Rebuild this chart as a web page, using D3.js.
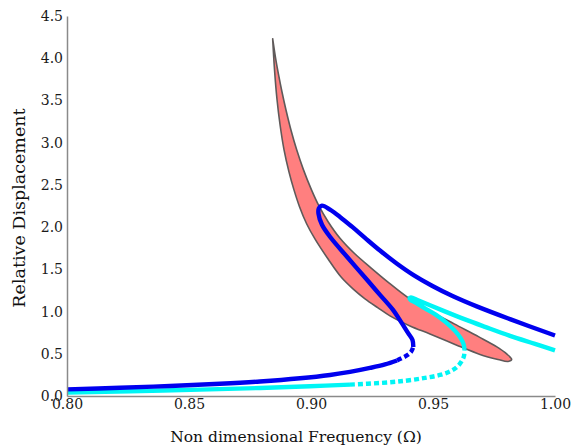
<!DOCTYPE html>
<html>
<head>
<meta charset="utf-8">
<script src="https://cdn.jsdelivr.net/npm/d3@7"></script>
<style>
  html, body { margin: 0; padding: 0; background: #fff; }
  svg { display: block; }
  .tick text { font-family: "DejaVu Serif", serif; font-size: 14px; fill: #1a1a1a; }
  .title { font-family: "DejaVu Serif", serif; fill: #111; }
</style>
</head>
<body>
<svg id="chart" width="572" height="445"></svg>
<script>
// Frequency response: [Omega, relative displacement]

// Shaded region: upper/right edge, from the top tip down to the lower-right tip
const bandUpper = [
  [0.88430, 4.229], [0.88557, 3.986], [0.88676, 3.796], [0.88807, 3.606], [0.88980, 3.381],
  [0.89184, 3.144], [0.89410, 2.918], [0.89689, 2.681], [0.90016, 2.444], [0.90320, 2.254],
  [0.90701, 2.064], [0.91172, 1.874], [0.91795, 1.684], [0.92455, 1.518], [0.93193, 1.340],
  [0.93963, 1.168], [0.94844, 1.014], [0.95869, 0.854], [0.96881, 0.700], [0.97619, 0.581],
  [0.98020, 0.498], [0.98225, 0.433]
];
// Shaded region: lower/left edge, from the lower-right tip back up to the top tip
const bandLower = [
  [0.98074, 0.409], [0.97664, 0.433], [0.96926, 0.492], [0.95902, 0.611], [0.94877, 0.735],
  [0.94057, 0.830], [0.93238, 0.949], [0.92746, 1.044], [0.92213, 1.151], [0.91721, 1.269],
  [0.91225, 1.412], [0.90693, 1.625], [0.90180, 1.851], [0.89820, 2.040], [0.89529, 2.242],
  [0.89299, 2.444], [0.89094, 2.657], [0.88893, 2.918], [0.88730, 3.215], [0.88607, 3.511],
  [0.88504, 3.867]
];

// Blue response curve: lower branch (solid, then sparse points near the jump)
const blueLowerSolid = [
  [0.80000, 0.079], [0.82172, 0.097], [0.84221, 0.119], [0.86270, 0.145], [0.87910, 0.172],
  [0.89549, 0.210], [0.90779, 0.249], [0.91598, 0.285], [0.92418, 0.332], [0.93033, 0.374],
  [0.93525, 0.421]
];
const blueLowerDotted = [
  [0.93525, 0.421], [0.93893, 0.474], [0.94098, 0.522], [0.94193, 0.581]
];
// Blue: middle branch up to the peak, then upper branch
const blueUpper = [
  [0.94193, 0.581], [0.94160, 0.664], [0.93975, 0.747], [0.93689, 0.878], [0.93361, 1.020],
  [0.92828, 1.198], [0.92295, 1.376], [0.91475, 1.649], [0.90779, 1.886], [0.90451, 2.028],
  [0.90307, 2.159], [0.90320, 2.220], [0.90451, 2.254], [0.90779, 2.206], [0.91189, 2.121],
  [0.91680, 2.005], [0.92213, 1.872], [0.92828, 1.722], [0.93525, 1.567], [0.94221, 1.429],
  [0.94959, 1.306], [0.95779, 1.187], [0.96844, 1.055], [0.98156, 0.910], [1.00000, 0.717]
];

// Cyan response curve
const cyanLowerSolid = [
  [0.80000, 0.042], [0.82582, 0.056], [0.85451, 0.076], [0.87910, 0.095], [0.89959, 0.115],
  [0.91598, 0.135]
];
const cyanLowerDotted = [
  [0.91598, 0.135], [0.92828, 0.154], [0.93852, 0.180], [0.94672, 0.214], [0.95287, 0.249],
  [0.95697, 0.291], [0.95984, 0.344], [0.96168, 0.409], [0.96270, 0.474], [0.96291, 0.546]
];
const cyanUpper = [
  [0.96291, 0.546], [0.96250, 0.617], [0.96127, 0.688], [0.95902, 0.771], [0.95533, 0.872],
  [0.95123, 0.961], [0.94672, 1.038], [0.94303, 1.103], [0.94078, 1.139], [0.94037, 1.157],
  [0.94098, 1.168], [0.94385, 1.133], [0.94877, 1.074], [0.95533, 0.996], [0.96311, 0.907],
  [0.97131, 0.819], [0.98156, 0.712], [0.99180, 0.617], [1.00000, 0.540]
];

// Axis ticks
const xTicks = [0.80, 0.85, 0.90, 0.95, 1.00];
const yTicks = [0.0, 0.5, 1.0, 1.5, 2.0, 2.5, 3.0, 3.5, 4.0, 4.5];

const svg = d3.select("#chart");
const x = d3.scaleLinear().domain([0.8, 1.0]).range([67, 555]);
const y = d3.scaleLinear().domain([0, 4.5]).range([396, 16]);

const line = d3.line()
  .x(d => x(d[0]))
  .y(d => y(d[1]))
  .curve(d3.curveCatmullRom.alpha(0.5));

// Shaded band
svg.append("path")
  .attr("d", line(bandUpper.concat(bandLower, [bandUpper[0]])) + "Z")
  .attr("fill", "#ff7f7f")
  .attr("stroke", "#5f5a5a")
  .attr("stroke-width", 1.6)
  .attr("stroke-linejoin", "round");

function drawCurve(data, color, dashed) {
  svg.append("path")
    .attr("d", line(data))
    .attr("fill", "none")
    .attr("stroke", color)
    .attr("stroke-width", 4.4)
    .attr("stroke-linecap", "butt")
    .attr("stroke-linejoin", "round")
    .attr("stroke-dasharray", dashed ? "5,3" : null);
}

drawCurve(cyanLowerSolid, "#00f5f5", false);
drawCurve(cyanLowerDotted, "#00f5f5", true);
drawCurve(cyanUpper, "#00f5f5", false);
drawCurve(blueLowerSolid, "#0000ee", false);
drawCurve(blueLowerDotted, "#0000ee", true);
drawCurve(blueUpper, "#0000ee", false);

// Axes
const xAxis = svg.append("g")
  .attr("transform", "translate(0,396)")
  .call(d3.axisBottom(x).tickValues(xTicks).tickFormat(d3.format(".2f")).tickSize(0).tickPadding(3));
const yAxis = svg.append("g")
  .attr("transform", "translate(67,0)")
  .call(d3.axisLeft(y).tickValues(yTicks).tickFormat(d3.format(".1f")).tickSize(0).tickPadding(4));
[xAxis, yAxis].forEach(g => g.select(".domain").attr("stroke", "#8a8a8a").attr("stroke-width", 1.5));

// Axis titles
svg.append("text")
  .attr("class", "title")
  .attr("font-size", "15.5px")
  .attr("x", 296).attr("y", 442)
  .attr("text-anchor", "middle")
  .text("Non dimensional Frequency (Ω)");
svg.append("text")
  .attr("class", "title")
  .attr("font-size", "17.5px")
  .attr("transform", "translate(25,208) rotate(-90)")
  .attr("text-anchor", "middle")
  .text("Relative Displacement");
</script>
</body>
</html>
